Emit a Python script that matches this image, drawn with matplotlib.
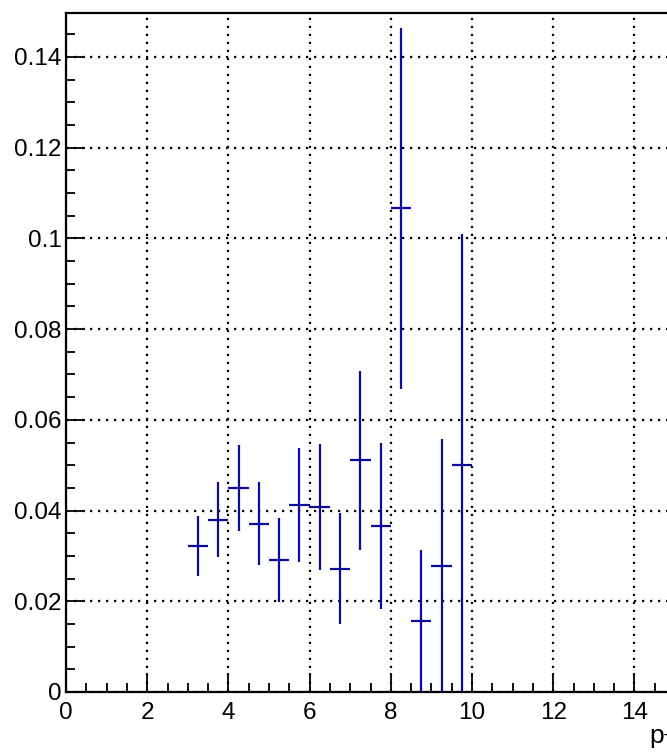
import matplotlib
matplotlib.use("Agg")
import matplotlib.pyplot as plt
from matplotlib.ticker import MultipleLocator, FixedLocator, FuncFormatter

plt.rcParams['font.family'] = ['Liberation Sans', 'DejaVu Sans']
plt.rcParams['mathtext.fontset'] = 'custom'
plt.rcParams['mathtext.rm'] = 'Liberation Sans'
plt.rcParams['mathtext.it'] = 'Liberation Sans:italic'

# Bin centres (pT, GeV/c), half bin widths, ratio values and uncertainties
pt_centres = [3.25, 3.75, 4.25, 4.75, 5.25, 5.75, 6.25, 6.75,
              7.25, 7.75, 8.25, 8.75, 9.25, 9.75]
pt_halfwidth = [0.25] * 14
ratio = [0.0322, 0.0380, 0.0450, 0.0371, 0.0291, 0.0412, 0.0408, 0.0272,
         0.0511, 0.0365, 0.1066, 0.0157, 0.0278, 0.0500]
ratio_err = [0.0066, 0.0082, 0.0094, 0.0091, 0.0093, 0.0126, 0.0138, 0.0123,
             0.0197, 0.0183, 0.0398, 0.0156, 0.0280, 0.0510]
x_major_ticks = [0, 2, 4, 6, 8, 10, 12, 14]

W, H = 667, 754
fig = plt.figure(figsize=(W / 100, H / 100), dpi=100)

x_max = 20.0
px_per_unit = 40.6
left_px, right_axis_px = 66, 66 + x_max * px_per_unit
bottom_px, top_px = 692, 13
ax = fig.add_axes([left_px / W, (H - bottom_px) / H,
                   (right_axis_px - left_px) / W, (bottom_px - top_px) / H])

ax.set_xlim(0, x_max)
ax.set_ylim(0, 0.1497)

ax.errorbar(pt_centres, ratio, yerr=ratio_err, xerr=pt_halfwidth,
            fmt='none', ecolor='#0a0a9c', elinewidth=1.6, capsize=0, zorder=3)

ax.xaxis.set_major_locator(FixedLocator(x_major_ticks))
ax.xaxis.set_minor_locator(MultipleLocator(0.5))
ax.yaxis.set_major_locator(MultipleLocator(0.02))
ax.yaxis.set_minor_locator(MultipleLocator(0.005))

def yfmt(v, pos):
    if abs(v) < 1e-9:
        return '0'
    return ('%.2f' % v).rstrip('0')

ax.yaxis.set_major_formatter(FuncFormatter(yfmt))
ax.xaxis.set_major_formatter(FuncFormatter(lambda v, p: '%d' % round(v)))

ax.tick_params(which='both', direction='in', top=False, right=False,
               labelsize=17.5, width=1.3, color='black')
ax.tick_params(which='major', length=14)
ax.tick_params(which='minor', length=6.5)
ax.tick_params(axis='x', which='major', pad=7)
ax.tick_params(axis='y', which='major', pad=3)

ax.grid(True, which='major', color='black', linestyle=(0, (1, 2.6)),
        linewidth=1.6)
ax.set_axisbelow(True)

for s in ax.spines.values():
    s.set_linewidth(1.6)

fig.text(649 / W, (H - 743) / H, r'p$_{\rm T}$', fontsize=19,
         ha='left', va='baseline')

fig.savefig('out.png', dpi=100)
